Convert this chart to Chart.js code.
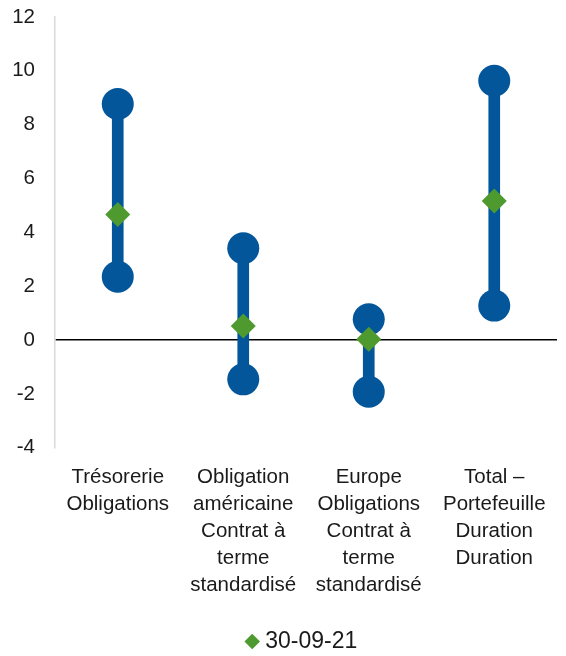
<!DOCTYPE html>
<html>
<head>
<meta charset="utf-8">
<script src="https://cdn.jsdelivr.net/npm/chart.js@4.4.1/dist/chart.umd.min.js"></script>
<style>
  html, body { margin: 0; padding: 0; background: #ffffff; }
  #wrap { width: 566px; height: 656px; }
</style>
</head>
<body>
<div id="wrap"><canvas id="chart" width="566" height="656"></canvas></div>
<script>
// Duration ranges per portfolio segment, with the current reading
const categories = [
  ['Trésorerie', 'Obligations'],
  ['Obligation', 'américaine', 'Contrat à', 'terme', 'standardisé'],
  ['Europe', 'Obligations', 'Contrat à', 'terme', 'standardisé'],
  ['Total –', 'Portefeuille', 'Duration', 'Duration']
];
const rangeLow = [2.35, -1.46, -1.92, 1.28];
const rangeHigh = [8.77, 3.41, 0.77, 9.63];
const current = [4.66, 0.52, 0.03, 5.16];
const currentLabel = '30-09-21';
const yTicks = [-4, -2, 0, 2, 4, 6, 8, 10, 12];

const BLUE = '#03569A';
const GREEN = '#4E9A2F';
const TEXT = '#1a1a1a';
const FONT = "'Liberation Sans', Arial, sans-serif";

const ranges = rangeLow.map((lo, i) => [lo, rangeHigh[i]]);

// Centre the legend under the plot area and nudge it down a little
const legendShift = {
  id: 'legendShift',
  afterLayout(chart) {
    const lg = chart.legend;
    if (!lg) return;
    const area = chart.chartArea;
    const dx = (area.left + area.right) / 2 - (lg.left + lg.right) / 2 - 2;
    lg.left += dx;
    lg.right += dx;
    lg.top += 7;
    lg.bottom += 7;
  }
};

new Chart(document.getElementById('chart'), {
  type: 'bar',
  data: {
    labels: categories,
    datasets: [
      {
        label: 'range',
        data: ranges,
        backgroundColor: BLUE,
        barThickness: 11,
        borderSkipped: false,
        order: 3
      },
      {
        type: 'line',
        label: 'low',
        data: rangeLow,
        showLine: false,
        pointRadius: 16,
        pointHoverRadius: 16,
        pointBackgroundColor: BLUE,
        pointBorderWidth: 0,
        order: 2
      },
      {
        type: 'line',
        label: 'high',
        data: rangeHigh,
        showLine: false,
        pointRadius: 16,
        pointHoverRadius: 16,
        pointBackgroundColor: BLUE,
        pointBorderWidth: 0,
        order: 2
      },
      {
        type: 'line',
        label: currentLabel,
        data: current,
        showLine: false,
        pointStyle: 'rectRot',
        pointRadius: 12.5,
        pointHoverRadius: 12.5,
        pointBackgroundColor: GREEN,
        pointBorderWidth: 0,
        backgroundColor: GREEN,
        borderColor: GREEN,
        order: 1
      }
    ]
  },
  plugins: [legendShift],
  options: {
    responsive: false,
    animation: false,
    layout: { autoPadding: false, padding: { top: 17, right: 9, left: 0, bottom: 0 } },
    plugins: {
      tooltip: { enabled: false },
      legend: {
        position: 'bottom',
        labels: {
          filter: (item) => item.text === currentLabel,
          usePointStyle: true,
          pointStyle: 'rectRot',
          boxWidth: 3,
          boxHeight: 11,
          padding: 8,
          color: TEXT,
          font: { family: FONT, size: 23 }
        }
      }
    },
    scales: {
      x: {
        grid: { display: false, drawTicks: false },
        border: { display: false },
        ticks: {
          color: TEXT,
          font: { family: FONT, size: 20.5, lineHeight: 1.32 },
          padding: 16,
          maxRotation: 0,
          autoSkip: false
        }
      },
      y: {
        min: -4,
        max: 12,
        afterBuildTicks: (axis) => { axis.ticks = yTicks.map(v => ({ value: v })); },
        afterFit: (axis) => { axis.width = 55; axis.paddingTop = 0; axis.paddingBottom = 0; },
        border: { display: true, color: '#d9d9d9', width: 1.5 },
        grid: {
          drawTicks: false,
          lineWidth: 1.5,
          color: (ctx) => (ctx.tick && ctx.tick.value === 0 ? '#000000' : 'rgba(0,0,0,0)')
        },
        ticks: {
          color: TEXT,
          font: { family: FONT, size: 20.5 },
          padding: 20
        }
      }
    }
  }
});
</script>
</body>
</html>
